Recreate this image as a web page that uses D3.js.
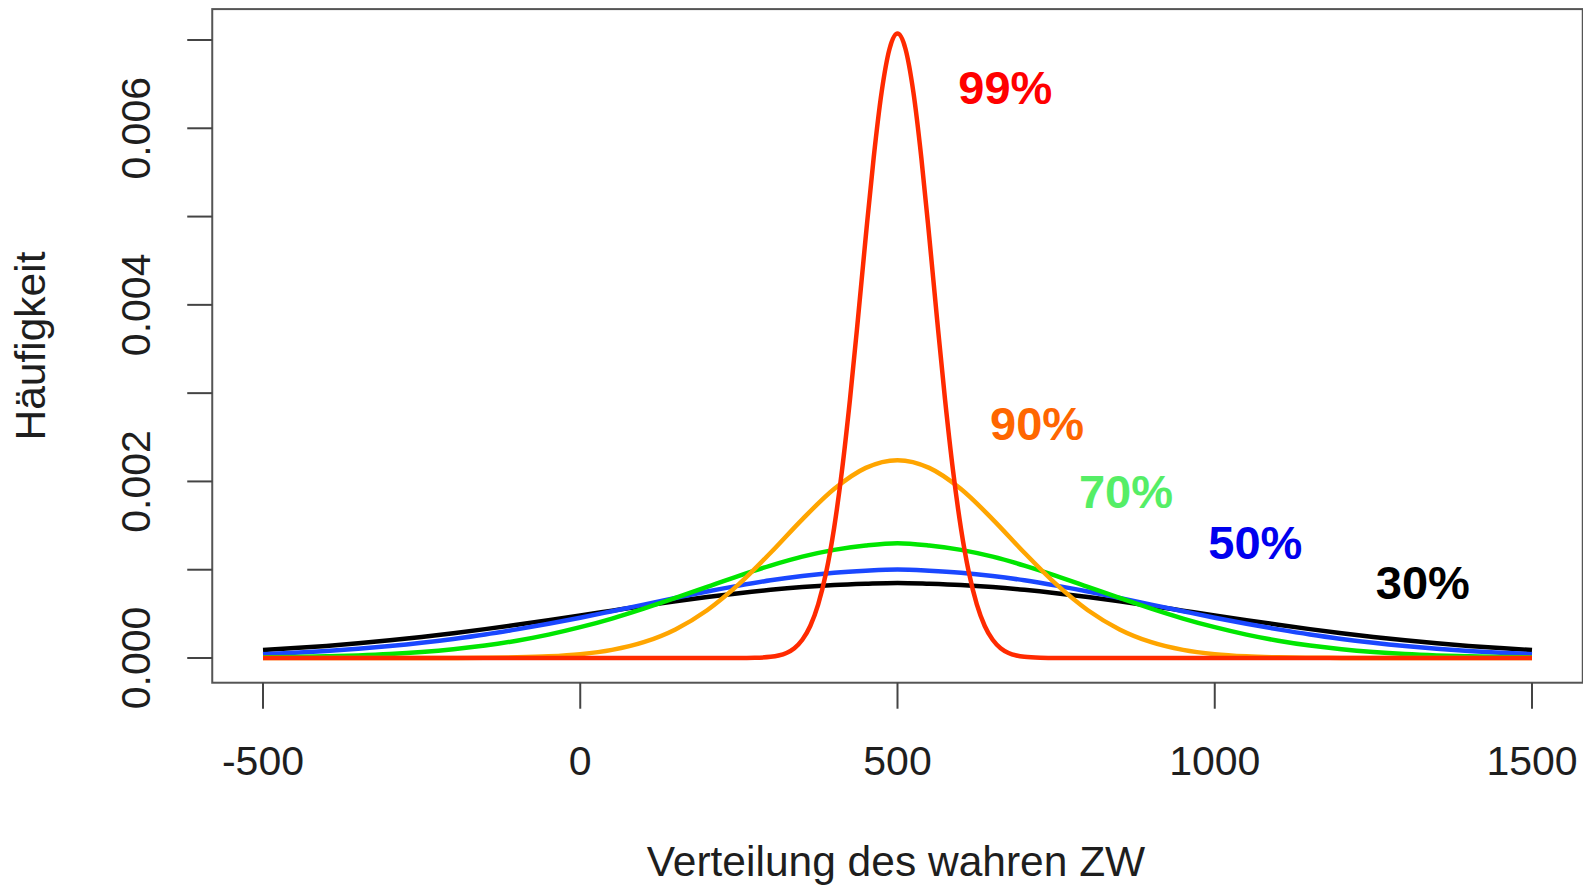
<!DOCTYPE html>
<meta charset="utf-8">
<style>
body { margin: 0; background: #fff; }
text { font-family: "Liberation Sans", Arial, Helvetica, sans-serif; }
.tick-label { font-size: 41px; fill: #1e1e1e; }
.axis-title { font-size: 42.5px; fill: #1e1e1e; }
.pct { font-size: 47px; font-weight: bold; }
</style>
<body>
<svg id="svg" width="1583" height="886"></svg>
<script src="https://cdn.jsdelivr.net/npm/d3@7"></script>
<script>
// x grid for the broad curves (step 50)
const xGrid = [-500,-450,-400,-350,-300,-250,-200,-150,-100,-50,0,50,100,150,200,250,300,350,400,450,500,
  550,600,650,700,750,800,850,900,950,1000,1050,1100,1150,1200,1250,1300,1350,1400,1450,1500];

// densities
const rel30 = [0.0000895,0.000112,0.000137,0.000167,0.000201,0.000239,0.000281,0.000327,0.000377,0.000429,0.000482,
  0.000536,0.000590,0.000642,0.000690,0.000734,0.000772,0.000803,0.000826,0.000840,0.000849,
  0.000840,0.000826,0.000803,0.000772,0.000734,0.000690,0.000642,0.000590,0.000536,0.000482,
  0.000429,0.000377,0.000327,0.000281,0.000239,0.000201,0.000167,0.000137,0.000112,0.0000895];
const rel50 = [0.0000438,0.0000594,0.0000793,0.000104,0.000135,0.000172,0.000216,0.000266,0.000324,0.000387,0.000456,
  0.000530,0.000605,0.000680,0.000753,0.000820,0.000880,0.000929,0.000966,0.000989,0.001002,
  0.000989,0.000966,0.000929,0.000880,0.000820,0.000753,0.000680,0.000605,0.000530,0.000456,
  0.000387,0.000324,0.000266,0.000216,0.000172,0.000135,0.000104,0.0000793,0.0000594,0.0000438];
const rel70 = [0.0000069,0.0000114,0.0000186,0.0000294,0.0000452,0.0000679,0.0000992,0.000141,0.000196,0.000265,0.000349,
  0.000447,0.000559,0.000680,0.000806,0.000931,0.001047,0.001148,0.001225,0.001274,0.001300,
  0.001274,0.001225,0.001148,0.001047,0.000931,0.000806,0.000680,0.000559,0.000447,0.000349,
  0.000265,0.000196,0.000141,0.0000992,0.0000679,0.0000452,0.0000294,0.0000186,0.0000114,0.0000069];
const rel90 = [0,0,0,0,0,0,0.000001,0.0000029,0.0000076,0.0000189,0.0000433,
  0.0000917,0.000179,0.000324,0.000541,0.000836,0.001192,0.001571,0.001914,0.002154,0.002241,
  0.002154,0.001914,0.001571,0.001192,0.000836,0.000541,0.000324,0.000179,0.0000917,0.0000433,
  0.0000189,0.0000076,0.0000029,0.000001,0,0,0,0,0,0];

// the narrow curve needs a finer grid
const xFine = [-500,250,275,300,312.5,325,337.5,350,362.5,375,387.5,400,412.5,425,437.5,450,462.5,475,487.5,500,
  512.5,525,537.5,550,562.5,575,587.5,600,612.5,625,637.5,650,662.5,675,687.5,700,725,750,1500];
const rel99 = [0,0,0.0000025,0.0000131,0.0000282,0.0000574,0.000111,0.000206,0.000362,0.000607,0.000968,
  0.001469,0.002123,0.002922,0.003828,0.004775,0.005670,0.006411,0.006901,0.007073,
  0.006901,0.006411,0.005670,0.004775,0.003828,0.002922,0.002123,0.001469,0.000968,0.000607,
  0.000362,0.000206,0.000111,0.0000574,0.0000282,0.0000131,0.0000025,0,0];

const labels = ["30%","50%","70%","90%","99%"];
const labelX = [1328, 1064, 860, 720, 670];
const labelY = [0.000670, 0.001123, 0.001701, 0.002471, 0.006277];
const lineColors = ["#000000","#1a47ff","#00e600","#ffa500","#ff2a00"];
const textColors = ["#000000","#0000ee","#55ee66","#ff6600","#ff0000"];

const xTicks = [-500, 0, 500, 1000, 1500];
const yTicks = [0, 0.001, 0.002, 0.003, 0.004, 0.005, 0.006, 0.007];
const yTickLabels = ["0.000","0.002","0.004","0.006"];

const svg = d3.select("#svg");

const x = d3.scaleLinear().domain([-500, 1500]).range([263, 1532]);
const y = d3.scaleLinear().domain([0, 0.007]).range([658, 40]);

// plot box (R pads the range by 4%)
const bx0 = x(-580), bx1 = x(1580), by0 = y(0.00735), by1 = y(-0.00028);
svg.append("rect")
  .attr("x", bx0).attr("y", by0)
  .attr("width", bx1 - bx0).attr("height", by1 - by0)
  .attr("fill", "none").attr("stroke", "#555").attr("stroke-width", 2);

// y axis ticks
svg.selectAll(".ytick").data(yTicks).enter().append("line")
  .attr("x1", bx0 - 25).attr("x2", bx0)
  .attr("y1", d => y(d)).attr("y2", d => y(d))
  .attr("stroke", "#444").attr("stroke-width", 2);
svg.selectAll(".ylab").data(yTickLabels).enter().append("text")
  .attr("class", "tick-label")
  .attr("text-anchor", "middle")
  .attr("transform", d => "translate(150," + y(+d) + ")rotate(-90)")
  .text(d => d);

// x axis ticks
svg.selectAll(".xtick").data(xTicks).enter().append("line")
  .attr("x1", d => x(d)).attr("x2", d => x(d))
  .attr("y1", by1).attr("y2", by1 + 26)
  .attr("stroke", "#444").attr("stroke-width", 2);
svg.selectAll(".xlab").data(xTicks).enter().append("text")
  .attr("class", "tick-label")
  .attr("text-anchor", "middle")
  .attr("x", d => x(d)).attr("y", 775)
  .text(d => d);

// axis titles
svg.append("text").attr("class", "axis-title")
  .attr("text-anchor", "middle")
  .attr("x", 896).attr("y", 876)
  .text("Verteilung des wahren ZW");
svg.append("text").attr("class", "axis-title")
  .attr("text-anchor", "middle")
  .attr("transform", "translate(45,346)rotate(-90)")
  .text("Häufigkeit");

// curves, drawn 30% first and 99% last
const series = [
  {xs: xGrid, ys: rel30},
  {xs: xGrid, ys: rel50},
  {xs: xGrid, ys: rel70},
  {xs: xGrid, ys: rel90},
  {xs: xFine, ys: rel99}
];
const line = d3.line()
  .x(d => x(d[0]))
  .y(d => y(d[1]))
  .curve(d3.curveMonotoneX);

svg.append("g").selectAll("path")
  .data(series).enter().append("path")
  .attr("d", s => line(d3.zip(s.xs, s.ys)))
  .attr("fill", "none")
  .attr("stroke", (s, i) => lineColors[i])
  .attr("stroke-width", 4.5)
  .attr("stroke-linejoin", "round");

// percentage labels
svg.selectAll(".pct").data(labels).enter().append("text")
  .attr("class", "pct")
  .attr("text-anchor", "middle")
  .attr("x", (d, i) => x(labelX[i]))
  .attr("y", (d, i) => y(labelY[i]))
  .attr("fill", (d, i) => textColors[i])
  .text(d => d);
</script>
</body>
